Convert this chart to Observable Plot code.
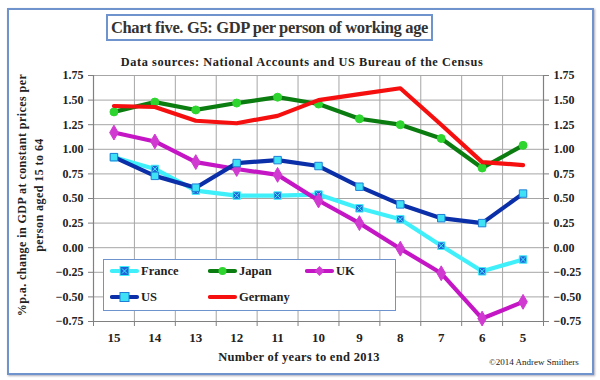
<!DOCTYPE html>
<html>
<head>
<meta charset="utf-8">
<script src="https://cdn.jsdelivr.net/npm/d3@7"></script>
<script src="https://cdn.jsdelivr.net/npm/@observablehq/plot@0.6"></script>
<style>
  html, body { margin: 0; padding: 0; background: #fff; }
  #wrap { position: relative; width: 600px; height: 380px; font-family: "Liberation Serif", "Times New Roman", Tinos, "DejaVu Serif", "Noto Serif", serif; color: #222; }
  #frame { position: absolute; left: 7px; top: 8px; width: 583px; height: 363px; border: 2px solid #6f93cc; box-shadow: 1px 1px 2px #aab; pointer-events: none; }
  #title { position: absolute; left: 106px; top: 14px; width: 323px; height: 23px; border: 2px solid #6f93cc; text-align: center; font-size: 16.5px; letter-spacing: -0.35px; font-weight: bold; line-height: 23px; background: #fff; color: #333; white-space: nowrap; }
  #subtitle { position: absolute; left: 52px; top: 55px; width: 500px; text-align: center; font-size: 12.3px; letter-spacing: 0.6px; font-weight: bold; white-space: nowrap; }
  #ylab { position: absolute; left: -99px; top: 178px; width: 260px; height: 34px; transform: rotate(-90deg); text-align: center; font-size: 12px; letter-spacing: 0.45px; line-height: 17px; font-weight: bold; white-space: nowrap; }
  #xtitle { position: absolute; left: 149px; top: 350px; width: 300px; text-align: center; font-size: 12.5px; letter-spacing: 0.3px; font-weight: bold; white-space: nowrap; }
  #copy { position: absolute; left: 489px; top: 357px; font-size: 9px; white-space: nowrap; }
  #legend { position: absolute; left: 103px; top: 259px; width: 291px; height: 50px; border: 1.5px solid #6f93cc; background: #fff; }
  .li { position: absolute; display: flex; align-items: center; font-size: 12.5px; font-weight: bold; }
  .li svg { display: block; margin-right: 1px; }
  #chart { position: absolute; left: 0; top: 0; }
</style>
</head>
<body>
<div id="wrap">
  <div id="chart"></div>
  <div id="title">Chart five. G5: GDP per person of working age</div>
  <div id="subtitle">Data sources: National Accounts and US Bureau of the Census</div>
  <div id="ylab">%p.a. change in GDP at constant prices per<br>person aged 15 to 64</div>
  <div id="xtitle">Number of years to end 2013</div>
  <div id="copy">©2014 Andrew Smithers</div>
  <div id="legend"></div>
  <div id="frame"></div>
</div>
<script>
// ---- data ----
const years = [15, 14, 13, 12, 11, 10, 9, 8, 7, 6, 5];
const france  = [0.92, 0.80, 0.58, 0.53, 0.53, 0.54, 0.40, 0.29, 0.02, -0.24, -0.12];
const japan   = [1.38, 1.48, 1.40, 1.47, 1.53, 1.46, 1.31, 1.25, 1.11, 0.81, 1.04];
const uk      = [1.17, 1.08, 0.87, 0.80, 0.74, 0.48, 0.25, -0.01, -0.26, -0.72, -0.55];
const us      = [0.92, 0.73, 0.61, 0.86, 0.89, 0.83, 0.62, 0.44, 0.30, 0.25, 0.55];
const germany = [1.44, 1.43, 1.29, 1.265, 1.34, 1.50, 1.56, 1.62, 1.25, 0.87, 0.84];
const yTicks = [-0.75, -0.5, -0.25, 0, 0.25, 0.5, 0.75, 1, 1.25, 1.5, 1.75];
const seriesNames = ["France", "Japan", "UK", "US", "Germany"];

// ---- styles ----
const style = {
  France:  {line: "#3ff0fa", marker: "square", mfill: "#1f63d6", mstroke: "#3ff0fa", cross: "#3ff0fa"},
  Japan:   {line: "#0b7d10", marker: "circle", mfill: "#2fd52f", mstroke: "#2fd52f"},
  UK:      {line: "#c416c4", marker: "diamond", mfill: "#d13ad1", mstroke: "#d13ad1"},
  US:      {line: "#0b2fa8", marker: "square", mfill: "#3fe2f5", mstroke: "#1f7fd6"},
  Germany: {line: "#f50f0f", marker: null}
};

const values = {France: france, Japan: japan, UK: uk, US: us, Germany: germany};
const rows = seriesNames.map(name => years.map((yr, i) => ({series: name, year: yr, value: values[name][i]})));
const bounds = years.map(y => y + 0.5).concat([years[years.length - 1] - 0.5]);
const FONT = "'Liberation Serif', 'Times New Roman', Tinos, 'DejaVu Serif', serif";

const marks = [
  Plot.ruleY(yTicks, {stroke: "#a6a6a6", strokeWidth: 1}),
  Plot.ruleX(bounds, {stroke: "#a6a6a6", strokeWidth: 1}),
  Plot.ruleY([yTicks[0]], {stroke: "#808080", strokeWidth: 1.2}),
  Plot.ruleX([bounds[0], bounds[bounds.length - 1]], {stroke: "#808080", strokeWidth: 1.2}),
  Plot.axisY({anchor: "left", ticks: yTicks, tickFormat: d3.format(".2f"), tickSize: 5, tickPadding: 5, label: null, fontSize: 12, fontWeight: "bold", stroke: "#808080", fontFamily: FONT}),
  Plot.axisY({anchor: "right", ticks: yTicks, tickFormat: d3.format(".2f"), tickSize: 5, tickPadding: 5, label: null, fontSize: 12, fontWeight: "bold", stroke: "#808080", fontFamily: FONT}),
  Plot.axisX({ticks: bounds, tickFormat: () => "", tickSize: 5, label: null, stroke: "#808080"}),
  Plot.axisX({ticks: years, tickFormat: d => String(d), tickSize: 0, tickPadding: 11, label: null, fontSize: 13, fontWeight: "bold", fontFamily: FONT})
];

rows.forEach(data => {
  const s = style[data[0].series];
  marks.push(Plot.line(data, {x: "year", y: "value", stroke: s.line, strokeWidth: 4.2, strokeLinejoin: "round", strokeLinecap: "round"}));
  if (s.marker) {
    const r = s.marker === "square" ? 4.2 : s.marker === "diamond" ? 4.5 : 4;
    marks.push(Plot.dot(data, {x: "year", y: "value", symbol: s.marker, r, fill: s.mfill, stroke: s.mstroke, strokeWidth: 1}));
    if (s.cross) marks.push(Plot.dot(data, {x: "year", y: "value", symbol: "times", r: 2.6, stroke: s.cross, strokeWidth: 1}));
  }
});

const chart = Plot.plot({
  width: 600,
  height: 380,
  marginLeft: 93,
  marginRight: 57,
  marginTop: 75,
  marginBottom: 59,
  style: {fontFamily: FONT, color: "#222", background: "transparent"},
  x: {type: "linear", domain: [bounds[0], bounds[bounds.length - 1]]},
  y: {domain: [yTicks[0], yTicks[yTicks.length - 1]]},
  marks
});
document.getElementById("chart").appendChild(chart);

// ---- legend ----
const legend = document.getElementById("legend");
const layout = {France: [6, 12], Japan: [104, 12], UK: [201, 12], US: [6, 38], Germany: [104, 38]};
seriesNames.forEach(name => {
  const s = style[name];
  const [lx, ly] = layout[name];
  const div = document.createElement("div");
  div.className = "li";
  div.style.left = lx + "px";
  div.style.top = (ly - 9) + "px";
  let m = "";
  if (s.marker === "square") {
    m = `<rect x="10" y="3.5" width="9" height="9" fill="${s.mfill}" stroke="${s.mstroke}" stroke-width="1"/>`;
    if (s.cross) m += `<path d="M12,5.5L17,10.5M17,5.5L12,10.5" stroke="${s.cross}" stroke-width="1"/>`;
  } else if (s.marker === "circle") {
    m = `<circle cx="14.5" cy="8" r="4" fill="${s.mfill}"/>`;
  } else if (s.marker === "diamond") {
    m = `<path d="M14.5,3L19.5,8L14.5,13L9.5,8Z" fill="${s.mfill}"/>`;
  }
  div.innerHTML = `<svg width="30" height="16"><line x1="2" y1="8" x2="27" y2="8" stroke="${s.line}" stroke-width="4.2" stroke-linecap="round"/>${m}</svg><span>${name}</span>`;
  legend.appendChild(div);
});
</script>
</body>
</html>
